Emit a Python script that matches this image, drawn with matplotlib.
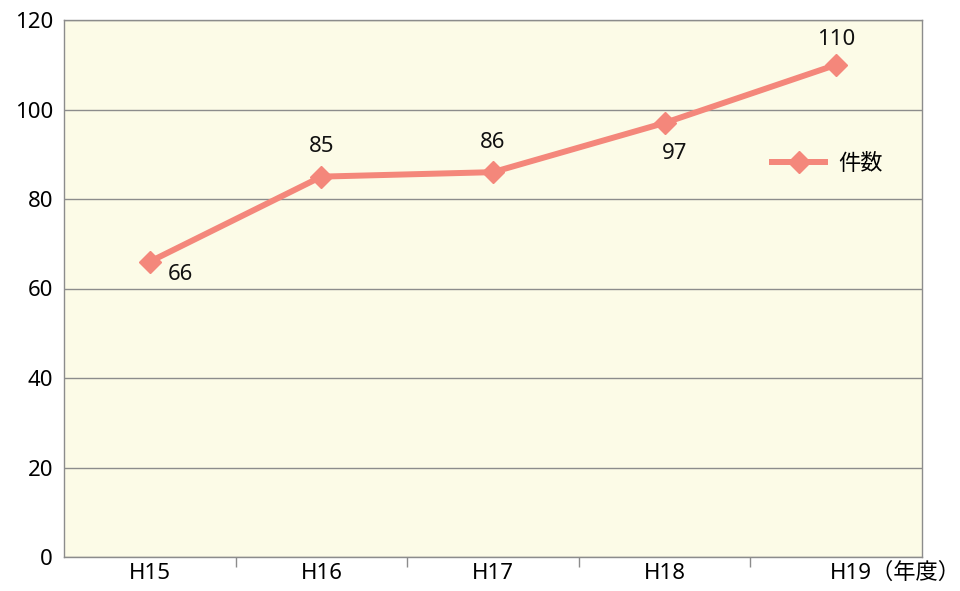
import matplotlib.pyplot as plt

plt.rcParams['font.family'] = ['Noto Sans', 'Noto Sans CJK JP']

years = ['H15', 'H16', 'H17', 'H18', 'H19']
counts = [66, 85, 86, 97, 110]
# label offsets (points) for each value label
label_offsets = [(22, -9), (0, 22), (0, 21), (7, -22), (0, 18)]

line_color = '#F4877B'
bg_color = '#FCFBE7'
grid_color = '#8C8C8C'

fig = plt.figure(figsize=(9.6, 5.91), dpi=100)
ax = fig.add_axes([64/960, 34/591, 858/960, 537/591])
ax.set_facecolor(bg_color)

x = list(range(len(years)))
ax.plot(x, counts, color=line_color, lw=4.3, marker='D', markersize=11,
        label='件数', zorder=3)

for i, v in enumerate(counts):
    ax.annotate(str(v), (x[i], v), xytext=label_offsets[i], textcoords='offset points',
                ha='center', va='center', fontsize=16, color='#111111')

ax.set_xlim(-0.5, len(years) - 0.5)
ax.set_ylim(0, 120)
ax.set_yticks(range(0, 121, 20))
ax.yaxis.grid(True, color=grid_color, lw=1)
ax.set_axisbelow(True)

ax.set_xticks(x)
ax.set_xticklabels(years[:-1] + [''])
ax.set_xticks([i + 0.5 for i in range(len(years) - 1)], minor=True)
ax.tick_params(axis='x', which='major', length=0, pad=4, labelsize=16)
ax.tick_params(axis='x', which='minor', length=7, color=grid_color, width=1)
ax.tick_params(axis='y', length=0, pad=8, labelsize=16)
# last category label carries the unit
ax.annotate(years[-1] + '（年度）', (x[-1], 0), xycoords='data', xytext=(-4.5, -4),
            textcoords='offset points', ha='left', va='top', fontsize=16,
            annotation_clip=False)

for s in ax.spines.values():
    s.set_color(grid_color)
    s.set_linewidth(1)

ax.legend(loc='center left', bbox_to_anchor=((772 - 64) / 858, (557 - 164) / 537),
          frameon=False, fontsize=16, handlelength=2.4, borderpad=0,
          borderaxespad=0, handletextpad=0.6)

fig.savefig('out.png', dpi=100)
